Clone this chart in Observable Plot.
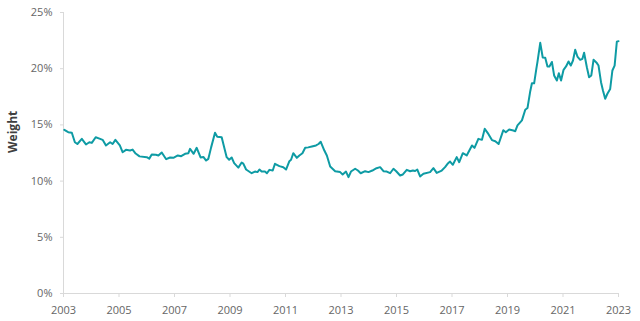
<!DOCTYPE html>
<html><head><meta charset="utf-8">
<script src="https://cdn.jsdelivr.net/npm/d3@7"></script>
<script src="https://cdn.jsdelivr.net/npm/@observablehq/plot@0.6"></script>
<style>body{margin:0;background:#fff}</style>
</head><body><div id="chart"></div>
<script>
const years = [2003.03,2003.17,2003.30,2003.41,2003.50,2003.66,2003.81,2003.93,2004.02,2004.16,2004.32,2004.41,2004.53,2004.68,2004.77,2004.87,
2005.03,2005.13,2005.25,2005.40,2005.49,2005.60,2005.74,2006.00,2006.09,2006.18,2006.33,2006.42,2006.54,2006.70,2006.84,2006.96,
2007.12,2007.24,2007.38,2007.50,2007.56,2007.69,2007.80,2007.94,2008.04,2008.14,2008.22,2008.32,2008.46,2008.54,2008.70,2008.88,2008.97,
2009.06,2009.15,2009.30,2009.42,2009.48,2009.58,2009.78,2009.90,2009.99,2010.06,2010.14,2010.26,2010.33,2010.42,2010.54,2010.62,2010.78,2010.92,
2011.02,2011.14,2011.20,2011.28,2011.41,2011.50,2011.61,2011.71,2011.82,2011.95,2012.10,2012.19,2012.27,2012.40,2012.49,2012.61,2012.79,2012.97,
2013.06,2013.18,2013.27,2013.36,2013.51,2013.61,2013.71,2013.87,2013.99,2014.13,2014.28,2014.41,2014.53,2014.65,2014.77,2014.89,2014.99,
2015.13,2015.23,2015.37,2015.49,2015.59,2015.67,2015.75,2015.85,2015.97,2016.21,2016.33,2016.45,2016.63,2016.75,2016.84,2016.93,
2017.03,2017.17,2017.26,2017.39,2017.53,2017.72,2017.81,2017.95,2018.08,2018.18,2018.31,2018.44,2018.56,2018.68,2018.85,2018.94,
2019.06,2019.21,2019.28,2019.36,2019.52,2019.64,2019.72,2019.82,2019.88,2019.96,2020.04,2020.08,2020.18,2020.27,2020.36,2020.44,2020.51,
2020.60,2020.68,2020.78,2020.85,2020.93,2021.02,2021.11,2021.20,2021.28,2021.36,2021.44,2021.52,2021.62,2021.70,2021.76,2021.86,2021.94,
2022.02,2022.10,2022.22,2022.28,2022.37,2022.44,2022.52,2022.60,2022.70,2022.78,2022.86,2022.94,2023.00];
const weights = [14.56,14.35,14.3,13.46,13.3,13.76,13.26,13.46,13.4,13.9,13.76,13.67,13.17,13.46,13.3,13.67,
13.17,12.57,12.78,12.72,12.8,12.45,12.2,12.13,12.0,12.37,12.34,12.28,12.55,11.95,12.1,12.07,
12.28,12.22,12.43,12.48,12.87,12.43,12.96,12.1,12.15,11.83,11.98,13.0,14.3,13.95,13.9,12.13,11.9,
12.1,11.6,11.2,11.65,11.55,11.03,10.7,10.85,10.8,11.03,10.85,10.85,10.7,11.0,10.94,11.54,11.33,11.24,
11.03,11.77,11.9,12.48,12.07,12.28,12.48,12.96,13.0,13.08,13.17,13.3,13.5,12.72,12.28,11.3,10.88,10.8,
10.59,10.85,10.35,10.85,11.1,10.94,10.7,10.88,10.8,10.94,11.15,11.24,10.88,10.85,10.7,11.1,10.88,
10.5,10.59,11.0,10.88,10.94,10.9,11.03,10.41,10.65,10.8,11.15,10.73,10.94,11.24,11.54,11.74,
11.45,12.13,11.68,12.48,12.28,13.17,12.96,13.76,13.67,14.65,14.2,13.65,13.55,13.3,14.53,14.35,
14.59,14.5,14.44,14.95,15.4,16.35,16.5,18.0,18.7,18.7,20.0,20.6,22.3,21.0,20.97,20.2,20.2,
20.6,19.4,18.95,19.6,18.95,19.9,20.2,20.64,20.28,20.73,21.68,21.08,20.79,20.88,21.42,20.13,
19.24,19.4,20.79,20.5,20.28,18.8,18.06,17.32,17.77,18.2,19.84,20.28,22.4,22.45];
const xTicks = [2003,2005,2007,2009,2011,2013,2015,2017,2019,2021,2023];
const yTicks = [0,5,10,15,20,25];
const yLabel = ["Weight"];

const data = years.map((t, i) => ({t, v: weights[i]}));
const n = Math.min(years.length, weights.length);
const rows = data.slice(0, n);

const chart = Plot.plot({
  width: 640, height: 321,
  marginLeft: 63, marginRight: 22, marginTop: 12, marginBottom: 28,
  style: {fontFamily: "'Open Sans', sans-serif", fontSize: "11px", color: "#666", background: "#fff"},
  x: {domain: [2003, 2023]},
  y: {domain: [0, 25]},
  marks: [
    Plot.ruleY([0], {stroke: "#d9d9d9"}),
    Plot.ruleX([2003], {stroke: "#d9d9d9"}),
    Plot.axisX({ticks: xTicks, tickFormat: d => String(d), tickSize: 4, tickPadding: 9, stroke: "#d9d9d9", fill: "#666", label: null}),
    Plot.axisY({ticks: yTicks, tickFormat: d => d + "%", tickSize: 3, tickPadding: 8, stroke: "#d9d9d9", fill: "#666", label: null}),
    Plot.lineY(rows, {x: "t", y: "v", stroke: "#0e9ba4", strokeWidth: 2}),
    Plot.text(yLabel, {frameAnchor: "left", rotate: -90, dx: -50, fontWeight: "bold", fontSize: 12, fill: "#404040"})
  ]
});
document.getElementById("chart").append(chart);
</script>
</body></html>
